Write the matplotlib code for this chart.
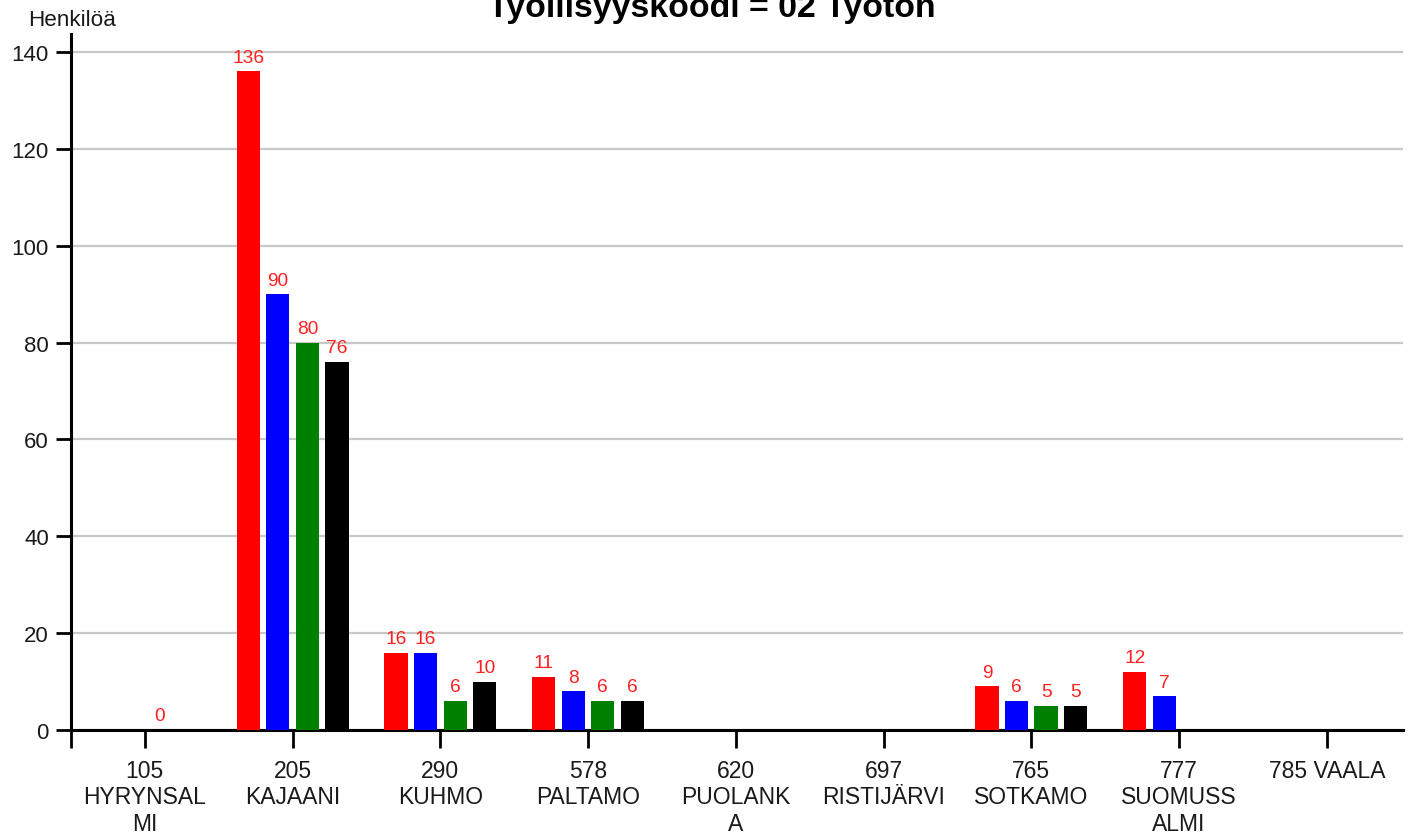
import numpy as np
import matplotlib
matplotlib.use("Agg")
import matplotlib.pyplot as plt

plt.rcParams['font.family'] = ['Liberation Sans', 'DejaVu Sans']

categories = ["105\nHYRYNSAL\nMI", "205\nKAJAANI", "290\nKUHMO", "578\nPALTAMO",
              "620\nPUOLANK\nA", "697\nRISTIJÄRVI", "765\nSOTKAMO",
              "777\nSUOMUSS\nALMI", "785 VAALA"]
nan = np.nan
series_red = [nan, 136, 16, 11, nan, nan, 9, 12, nan]
series_blue = [nan, 90, 16, 8, nan, nan, 6, 7, nan]
series_green = [0, 80, 6, 6, nan, nan, 5, nan, nan]
series_black = [nan, 76, 10, 6, nan, nan, 5, nan, nan]
series = [series_red, series_blue, series_green, series_black]
colors = ["#ff0000", "#0000ff", "#008000", "#000000"]
yticks = [0, 20, 40, 60, 80, 100, 120, 140]

W, H = 1408, 837
fig = plt.figure(figsize=(W / 100, H / 100), dpi=100)
left, right, bottom, top = 71 / W, 1403 / W, 1 - 731 / H, 1 - 35 / H
ax = fig.add_axes([left, bottom, right - left, top - bottom])

x = np.arange(len(categories))
slot = 0.2
bw = 0.157
for i, (vals, c) in enumerate(zip(series, colors)):
    pos = x + (i - 1.5) * slot
    v = np.array(vals, dtype=float)
    m = ~np.isnan(v)
    ax.bar(pos[m], v[m], width=bw, color=c, zorder=3)
    for p, val in zip(pos[m], v[m]):
        ax.annotate(f"{int(val)}", (p, val), xytext=(0, 4), textcoords="offset points",
                    ha="center", va="bottom", color="#ff2020", fontsize=13.8, zorder=4)

ax.set_xlim(-0.5, 8.516)
ax.set_ylim(0, 143.7)
ax.set_xticks(x)
ax.set_xticklabels(categories, fontsize=16.5, color="#1a1a1a", linespacing=1.18)
ax.set_xticks([-0.5], minor=True)
ax.set_yticks(yticks)
ax.set_yticklabels([str(t) for t in yticks], fontsize=16, color="#1a1a1a")
ax.tick_params(axis="x", which="both", length=13, width=2, pad=8, direction="out")
ax.tick_params(axis="y", length=11, width=2, pad=5)

ax.yaxis.grid(True, color="#c8c8c8", linewidth=1.6, zorder=0)
ax.set_axisbelow(True)
for s in ["top", "right"]:
    ax.spines[s].set_visible(False)
for s in ["left", "bottom"]:
    ax.spines[s].set_linewidth(2.2)

fig.text(72 / W, 1 - 20 / H, "Henkilöä", ha="center", va="center", fontsize=16.2, color="#1a1a1a")
fig.text(712 / W, 1 - 9 / H, "Työllisyyskoodi = 02 Työtön", ha="center", va="center",
         fontsize=24.4, fontweight="bold")

fig.savefig("out.png", dpi=100)
